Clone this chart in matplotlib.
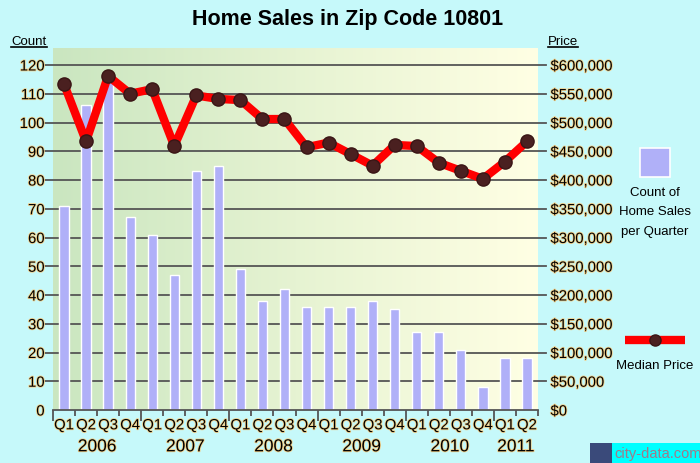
import numpy as np
import matplotlib
matplotlib.use("Agg")
import matplotlib.pyplot as plt
from matplotlib.patches import Rectangle
from matplotlib.lines import Line2D
from matplotlib.colors import LinearSegmentedColormap
import matplotlib.patheffects as pe

# ---------------- data ----------------
quarters = ["Q1", "Q2", "Q3", "Q4"] * 5 + ["Q1", "Q2"]
years = ["2006", "2007", "2008", "2009", "2010", "2011"]
counts = [71, 106, 116, 67, 61, 47, 83, 85, 49, 38, 42, 36,
          36, 36, 38, 35, 27, 27, 21, 8, 18, 18]
prices = [567000, 467000, 581000, 550000, 558000, 459000, 547000, 541000,
          539000, 506000, 506000, 457000, 465000, 445000, 425000, 461000,
          459000, 430000, 416000, 402000, 432000, 467000]
count_ticks = list(range(0, 121, 10))
price_ticks = list(range(0, 600001, 50000))

plt.rcParams['font.family'] = ['Liberation Sans', 'DejaVu Sans']

W, H = 700, 464
fig = plt.figure(figsize=(W / 100, H / 100), dpi=100)
fig.patch.set_facecolor('#C6F9FA')

L, R, T, B = 53, 538, 49, 411
ax = fig.add_axes([L / W, 1 - B / H, (R - L) / W, (B - T) / H])
ax.set_facecolor('none')
ymax = 120 * (B - T) / (B - 66)
n = len(counts)
x = np.arange(n)
ax.set_xlim(-0.5, n - 0.5)
ax.set_ylim(0, ymax)

# gradient background
cmap = LinearSegmentedColormap.from_list('bg', ['#CAE6C0', '#E6F3D2', '#FFFFE4'])
grad = np.linspace(0, 1, 256).reshape(1, -1)
ax.imshow(grad, aspect='auto', cmap=cmap, extent=(-0.5, n - 0.5, 0, ymax),
          zorder=0, interpolation='bicubic')

halo = [pe.withStroke(linewidth=1.2, foreground='#F2D08A')]
fs_tick = 10.7

# grid lines (extend slightly beyond the plot)
for v in count_ticks[1:]:
    ax.axhline(v, xmin=-0.017, xmax=1.016, color='#555555', lw=1.3,
               zorder=1, clip_on=False)

ax.bar(x, counts, width=0.42, color='#B0B0F8', edgecolor='white', lw=1.0, zorder=2)

# spines
for s in ['top', 'right', 'left']:
    ax.spines[s].set_visible(False)
ax.spines['bottom'].set_color('#555555')
ax.spines['bottom'].set_linewidth(1.3)
ax.spines['bottom'].set_zorder(3)

ax.set_yticks(count_ticks)
ax.set_yticklabels([str(v) for v in count_ticks], fontsize=fs_tick)
ax.tick_params(axis='y', length=0, pad=6)
for lab in ax.get_yticklabels():
    lab.set_path_effects(halo)

# x ticks: boundaries
ax.set_xticks(np.arange(-0.5, n, 4), minor=False)
ax.set_xticks(np.arange(-0.5, n, 1), minor=True)
ax.set_xticklabels([])
ax.tick_params(axis='x', which='major', length=8, width=1.3, color='#555555')
ax.tick_params(axis='x', which='minor', length=4, width=1.3, color='#555555')
for i, q in enumerate(quarters):
    t = ax.text(i, -0.023, q, transform=ax.get_xaxis_transform(), ha='center',
                va='top', fontsize=fs_tick, clip_on=False)
    t.set_path_effects(halo)
for j, yv in enumerate(years):
    cx = j * 4 + 1.5 if j < 5 else 20.5
    t = ax.text(cx, -0.081, yv, transform=ax.get_xaxis_transform(), ha='center',
                va='top', fontsize=12.5, clip_on=False)
    t.set_path_effects(halo)

# price axis
ax2 = ax.twinx()
ax2.set_ylim(0, 600000 * ymax / 120)
for s in ax2.spines.values():
    s.set_visible(False)
ax2.set_yticks(price_ticks)
ax2.set_yticklabels(['${:,}'.format(v) for v in price_ticks], fontsize=fs_tick)
ax2.tick_params(axis='y', length=0, pad=9)
for lab in ax2.get_yticklabels():
    lab.set_path_effects(halo)
ax2.plot(x, prices, color='#FF0000', lw=6, zorder=5, solid_capstyle='round',
         solid_joinstyle='round', marker='o', markersize=9.5,
         markerfacecolor='#4A2020', markeredgecolor='#3A1515', markeredgewidth=1)
ax2.set_xlim(-0.5, n - 0.5)

# title
fig.text(348 / W, 1 - 19 / H, 'Home Sales in Zip Code 10801',
         ha='center', va='center', fontsize=15.5, fontweight='bold')

# axis titles with underline
def underlined(xc, yc, s):
    t = fig.text(xc / W, 1 - yc / H, s, ha='center', va='center', fontsize=9.5)
    fig.canvas.draw()
    bb = t.get_window_extent()
    fig.add_artist(Line2D([bb.x0 / W, bb.x1 / W], [(bb.y0 + 0.5) / H, (bb.y0 + 0.5) / H],
                          color='black', lw=1.2, transform=fig.transFigure))

underlined(29, 42, 'Count')
underlined(563, 42, 'Price')

# legend
fs_leg = 9.5
fig.add_artist(Rectangle((640 / W, 1 - 178 / H), 30 / W, 29 / H, transform=fig.transFigure,
                         facecolor='#B0B0F8', edgecolor='white', lw=1.2))
for k, s in enumerate(['Count of', 'Home Sales', 'per Quarter']):
    fig.text(655 / W, 1 - (193 + k * 19.5) / H, s, ha='center', va='center', fontsize=fs_leg)
fig.add_artist(Line2D([625 / W, 685 / W], [1 - 341 / H] * 2, color='#FF0000', lw=6,
                      transform=fig.transFigure, solid_capstyle='butt'))
fig.add_artist(Line2D([655 / W], [1 - 341 / H], marker='o', markersize=8,
                      markerfacecolor='#4A2020', markeredgecolor='#3A1515',
                      transform=fig.transFigure))
fig.text(655 / W, 1 - 366 / H, 'Median Price', ha='center', va='center', fontsize=fs_leg)

# logo
fig.add_artist(Rectangle((612 / W, 0), 88 / W, 20 / H, transform=fig.transFigure,
                         facecolor='#00FFFF', edgecolor='none'))
fig.add_artist(Rectangle((590 / W, 0), 22 / W, 20 / H, transform=fig.transFigure,
                         facecolor='#3A4A7A', edgecolor='none'))
fig.text(614 / W, 10 / H, 'city-data.com', ha='left', va='center', fontsize=10.5,
         color='#A07A8A')

fig.savefig('out.png', dpi=100, facecolor=fig.get_facecolor())
